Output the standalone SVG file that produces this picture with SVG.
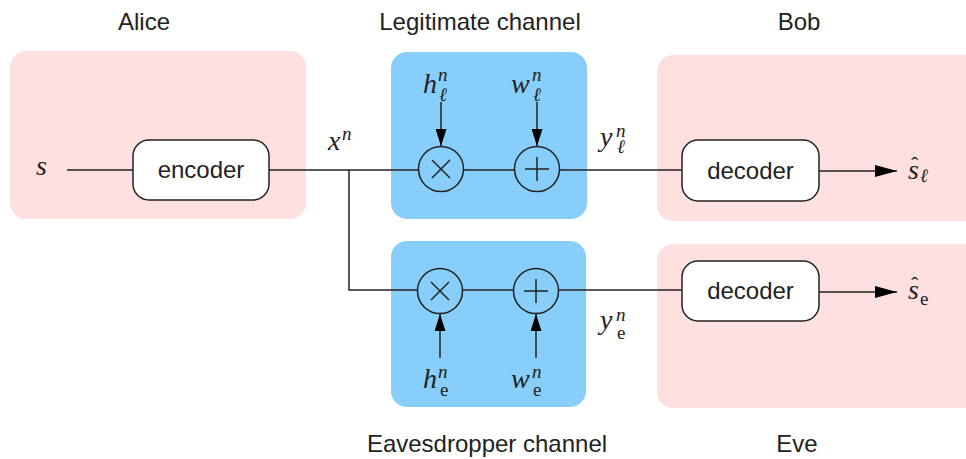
<svg xmlns="http://www.w3.org/2000/svg" width="966" height="459" viewBox="0 0 966 459">
<defs>
<style>
.pink{fill:#ffe0e0}
.blue{fill:#87cefa}
.blk{fill:#fff;stroke:#222;stroke-width:1.5}
.ln{fill:none;stroke:#222;stroke-width:1.5}
.op{fill:none;stroke:#222;stroke-width:1.5}
.lbl{font-family:"Liberation Sans",Arial,sans-serif;font-size:24px;fill:#222;text-anchor:middle}
.m{font-family:"Liberation Serif","Times New Roman",serif;font-style:italic;font-size:28px;fill:#222}
.s{font-size:19px}
.up{font-style:normal}
.hat{font-family:"Liberation Serif","Times New Roman",serif;font-size:22px;fill:#222;font-style:normal}
</style>
<marker id="ah" viewBox="0 0 10 10" refX="10" refY="5" markerWidth="22" markerHeight="12" markerUnits="userSpaceOnUse" orient="auto" preserveAspectRatio="none">
<path d="M0,0 L10,5 L0,10 z" fill="#000"/>
</marker>
<marker id="av" viewBox="0 0 10 10" refX="10" refY="5" markerWidth="17" markerHeight="11" markerUnits="userSpaceOnUse" orient="auto" preserveAspectRatio="none">
<path d="M0,0 L10,5 L0,10 z" fill="#000"/>
</marker>
</defs>
<rect width="966" height="459" fill="#fff"/>

<g id="alice">
<rect class="pink" x="10" y="51" width="296" height="168" rx="16"/>
<text class="lbl" x="144" y="30">Alice</text>
</g>
<g id="legit">
<rect class="blue" x="391" y="52" width="196" height="167" rx="16"/>
<text class="lbl" x="480" y="30">Legitimate channel</text>
</g>
<g id="eaves">
<rect class="blue" x="391" y="241" width="195" height="166" rx="16"/>
<text class="lbl" x="487" y="452">Eavesdropper channel</text>
</g>
<g id="bob">
<rect class="pink" x="657" y="55" width="330" height="166" rx="16"/>
<text class="lbl" x="799" y="30">Bob</text>
</g>
<g id="eve">
<rect class="pink" x="657" y="244" width="330" height="164" rx="16"/>
<text class="lbl" x="797" y="452">Eve</text>
</g>

<g id="connectors">
<path class="ln" d="M67,170 H133"/>
<path class="ln" d="M269,170 H419"/>
<path class="ln" d="M349,170 V290 H418"/>
<path class="ln" d="M463,170 H515"/>
<path class="ln" d="M559,170 H682"/>
<path class="ln" d="M462,290 H514"/>
<path class="ln" d="M558,290 H682"/>
<path class="ln" d="M441,102 V146" marker-end="url(#av)"/>
<path class="ln" d="M537,102 V146" marker-end="url(#av)"/>
<path class="ln" d="M440,358 V314" marker-end="url(#av)"/>
<path class="ln" d="M536,358 V314" marker-end="url(#av)"/>
<path class="ln" d="M819,171 H897" marker-end="url(#ah)"/>
<path class="ln" d="M819,292 H897" marker-end="url(#ah)"/>
</g>

<g id="encoder">
<rect class="blk" x="133" y="140" width="136" height="60" rx="16"/>
<text class="lbl" x="201" y="178">encoder</text>
</g>
<g id="decoder-bob">
<rect class="blk" x="682" y="140" width="137" height="61" rx="16"/>
<text class="lbl" x="750.5" y="179">decoder</text>
</g>
<g id="decoder-eve">
<rect class="blk" x="682" y="261" width="137" height="60" rx="16"/>
<text class="lbl" x="750.5" y="299">decoder</text>
</g>

<g id="mult-l">
<circle class="op" cx="441" cy="169" r="22.5"/>
<path class="op" d="M432,160 L450,178 M450,160 L432,178"/>
</g>
<g id="add-l">
<circle class="op" cx="537" cy="169" r="22.5"/>
<path class="op" d="M537,157 V181 M525,169 H549"/>
</g>
<g id="mult-e">
<circle class="op" cx="440" cy="291" r="22.5"/>
<path class="op" d="M431,282 L449,300 M449,282 L431,300"/>
</g>
<g id="add-e">
<circle class="op" cx="536" cy="291" r="22.5"/>
<path class="op" d="M536,279 V303 M524,291 H548"/>
</g>

<g id="labels">
<text class="m" x="36" y="175">s</text>
<text class="m" x="328" y="150">x<tspan class="s" x="342" y="140">n</tspan></text>
<text class="m" x="423" y="93">h<tspan class="s" x="438" y="81">n</tspan><tspan class="s" x="439" y="101">ℓ</tspan></text>
<text class="m" x="511" y="93">w<tspan class="s" x="532" y="81">n</tspan><tspan class="s" x="533" y="101">ℓ</tspan></text>
<text class="m" x="423" y="388">h<tspan class="s" x="438" y="378">n</tspan><tspan class="s up" x="440" y="396">e</tspan></text>
<text class="m" x="511" y="388">w<tspan class="s" x="532" y="378">n</tspan><tspan class="s up" x="533" y="396">e</tspan></text>
<text class="m" x="600" y="146">y<tspan class="s" x="616" y="137">n</tspan><tspan class="s" x="617" y="153">ℓ</tspan></text>
<text class="m" x="600" y="329">y<tspan class="s" x="616" y="321">n</tspan><tspan class="s up" x="617" y="339">e</tspan></text>
<text class="m" x="908" y="179">s<tspan class="s" x="920" y="182">ℓ</tspan><tspan class="hat" x="911" y="172">ˆ</tspan></text>
<text class="m" x="908" y="299">s<tspan class="s up" x="920" y="305">e</tspan><tspan class="hat" x="911" y="292">ˆ</tspan></text>
</g>
</svg>
